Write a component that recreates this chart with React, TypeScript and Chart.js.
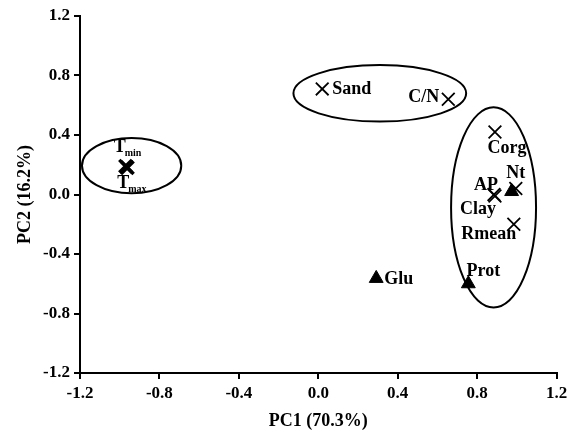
import React, { useEffect, useRef } from 'react';
import { Chart, registerables } from 'chart.js';

Chart.register(...registerables);

// Temperature loadings (crosses, bold)
const TEMP_NAMES = ['Tmin', 'Tmax'];
const TEMP_PC1 = [-0.97, -0.962];
const TEMP_PC2 = [0.19, 0.18];

// Soil property loadings (crosses)
const CROSS_NAMES = ['Sand', 'C/N', 'Corg', 'Nt', 'AP', 'Clay', 'Rmean'];
const CROSS_PC1 = [0.02, 0.655, 0.89, 0.995, 0.885, 0.89, 0.985];
const CROSS_PC2 = [0.71, 0.64, 0.42, 0.04, 0.0, -0.01, -0.2];

// Enzyme loadings (triangles)
const TRI_NAMES = ['', 'Prot', 'Glu'];
const TRI_PC1 = [0.974, 0.756, 0.292];
const TRI_PC2 = [0.02, -0.6, -0.564];

// Axis ticks
const TICKS = [-1.2, -0.8, -0.4, 0.0, 0.4, 0.8, 1.2];

// Group ellipses (data units)
const ELLIPSE_CX = [-0.94, 0.31, 0.883];
const ELLIPSE_CY = [0.194, 0.68, -0.087];
const ELLIPSE_RX = [0.25, 0.435, 0.214];
const ELLIPSE_RY = [0.185, 0.19, 0.673];

const FONT = "'Liberation Serif', 'Times New Roman', serif";

// label placement relative to marker (pixels)
const LABEL_STYLE: Record<string, { text: string; sub?: string; dx: number; dy: number; align: CanvasTextAlign }> = {
  Tmin: { text: 'T', sub: 'min', dx: -6, dy: -19, align: 'center' },
  Tmax: { text: 'T', sub: 'max', dx: -4, dy: 16, align: 'center' },
  Sand: { text: 'Sand', dx: 10, dy: 0, align: 'left' },
  'C/N': { text: 'C/N', dx: -9, dy: -2, align: 'right' },
  Corg: { text: 'Corg', dx: 12, dy: 16, align: 'center' },
  Nt: { text: 'Nt', dx: 0, dy: -15, align: 'center' },
  AP: { text: 'AP', dx: -8, dy: -9, align: 'center' },
  Clay: { text: 'Clay', dx: -17, dy: 13, align: 'center' },
  Rmean: { text: 'Rmean', dx: -25, dy: 10, align: 'center' },
  Prot: { text: 'Prot', dx: 15, dy: -12, align: 'center' },
  Glu: { text: 'Glu', dx: 8, dy: 1, align: 'left' },
};

const toPoints = (xs: number[], ys: number[]) => xs.map((x, i) => ({ x, y: ys[i] }));

const ellipsePlugin = {
  id: 'ellipses',
  beforeDatasetsDraw(chart: any) {
    const { ctx, scales } = chart;
    const xs = scales.x;
    const ys = scales.y;
    ctx.save();
    ctx.strokeStyle = '#000';
    ctx.lineWidth = 2;
    ELLIPSE_CX.forEach((cx, i) => {
      const px = xs.getPixelForValue(cx);
      const py = ys.getPixelForValue(ELLIPSE_CY[i]);
      const rx = Math.abs(xs.getPixelForValue(cx + ELLIPSE_RX[i]) - px);
      const ry = Math.abs(ys.getPixelForValue(ELLIPSE_CY[i] + ELLIPSE_RY[i]) - py);
      ctx.beginPath();
      ctx.ellipse(px, py, rx, ry, 0, 0, Math.PI * 2);
      ctx.stroke();
    });
    ctx.restore();
  },
};

const labelPlugin = {
  id: 'pointLabels',
  afterDatasetsDraw(chart: any) {
    const { ctx } = chart;
    ctx.save();
    ctx.fillStyle = '#000';
    ctx.textBaseline = 'middle';
    chart.data.datasets.forEach((ds: any, di: number) => {
      const meta = chart.getDatasetMeta(di);
      meta.data.forEach((el: any, i: number) => {
        const name = ds.names[i];
        const st = LABEL_STYLE[name];
        if (!st) return;
        const x = el.x + st.dx;
        const y = el.y + st.dy;
        ctx.font = `bold 18px ${FONT}`;
        ctx.textAlign = st.align;
        if (st.sub) {
          const w = ctx.measureText(st.text).width;
          ctx.textAlign = 'left';
          ctx.fillText(st.text, x - w / 2, y);
          ctx.font = `bold 10px ${FONT}`;
          ctx.fillText(st.sub, x + w / 2 - 1, y + 6);
        } else {
          ctx.fillText(st.text, x, y);
        }
      });
    });
    ctx.restore();
  },
};

const axisCommon = (title: string, titlePadding: any) => ({
  type: 'linear' as const,
  min: -1.2,
  max: 1.2,
  afterBuildTicks: (s: any) => {
    s.ticks = TICKS.map((v) => ({ value: v }));
  },
  ticks: {
    color: '#000',
    font: { family: FONT, size: 17, weight: 'bold' as const },
    padding: 4,
    callback: (v: any) => Number(v).toFixed(1),
  },
  grid: {
    display: true,
    drawOnChartArea: false,
    drawTicks: true,
    tickLength: 6,
    color: '#000',
    lineWidth: 2,
  },
  border: { display: true, color: '#000', width: 2 },
  title: {
    display: true,
    text: title,
    color: '#000',
    font: { family: FONT, size: 18, weight: 'bold' as const },
    padding: titlePadding,
  },
});

export default function App() {
  const ref = useRef<HTMLCanvasElement | null>(null);
  useEffect(() => {
    if (!ref.current) return;
    const chart = new Chart(ref.current, {
      type: 'scatter',
      data: {
        datasets: [
          {
            names: TEMP_NAMES,
            data: toPoints(TEMP_PC1, TEMP_PC2),
            pointStyle: 'crossRot',
            pointRadius: 9,
            pointBorderWidth: 3.5,
            borderColor: '#000',
            backgroundColor: '#000',
          } as any,
          {
            names: CROSS_NAMES,
            data: toPoints(CROSS_PC1, CROSS_PC2),
            pointStyle: 'crossRot',
            pointRadius: 9,
            pointBorderWidth: 1.8,
            borderColor: '#000',
            backgroundColor: '#000',
          } as any,
          {
            names: TRI_NAMES,
            data: toPoints(TRI_PC1, TRI_PC2),
            pointStyle: 'triangle',
            pointRadius: 8,
            pointBorderWidth: 1,
            borderColor: '#000',
            backgroundColor: '#000',
          } as any,
        ],
      },
      options: {
        animation: false,
        responsive: false,
        maintainAspectRatio: false,
        layout: { padding: { top: 16, right: 12, left: 0, bottom: 0 } },
        plugins: { legend: { display: false }, tooltip: { enabled: false } },
        scales: {
          x: {
            ...axisCommon('PC1 (70.3%)', { top: 0, bottom: 9 }),
            position: 'bottom',
            afterFit: (s: any) => {
              s.height = 68;
              s.paddingRight = 0;
              s.paddingLeft = 0;
            },
          } as any,
          y: {
            ...axisCommon('PC2 (16.2%)', { top: 15, bottom: 0 }),
            position: 'left',
            afterFit: (s: any) => {
              s.width = 80;
              s.paddingTop = 0;
              s.paddingBottom = 0;
            },
          } as any,
        },
      },
      plugins: [ellipsePlugin, labelPlugin],
    });
    return () => chart.destroy();
  }, []);
  return (
    <div style={{ position: 'fixed', left: 0, top: 0, width: 569, height: 441, background: '#fff' }}>
      <canvas ref={ref} width={569} height={441} style={{ display: 'block' }} />
    </div>
  );
}
